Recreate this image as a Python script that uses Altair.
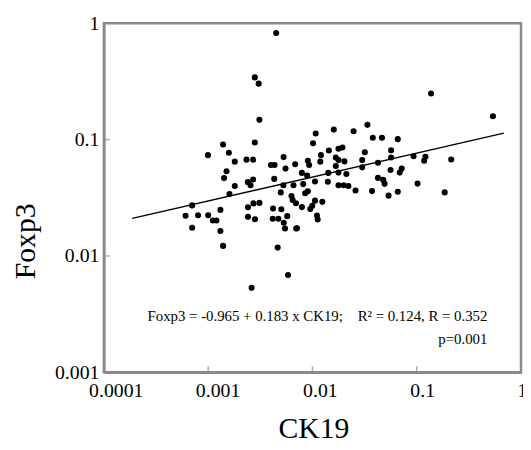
import altair as alt
import pandas as pd

# ---- data (log-log scatter) ----
ck19 = [
    0.000702, 0.000607, 0.000800, 0.00100, 0.00111, 0.00120, 0.00131, 0.000702,
    0.00131, 0.00139, 0.000995, 0.00139, 0.00158, 0.00180, 0.00150, 0.00142,
    0.00180, 0.00160, 0.00233, 0.00270, 0.00280, 0.00310, 0.00305, 0.00280,
    0.00449, 0.00240, 0.00270, 0.00255, 0.00400, 0.00433, 0.00529, 0.00552,
    0.00683, 0.00430, 0.00526, 0.00658, 0.00497, 0.00630, 0.00646, 0.00695,
    0.00241, 0.00272, 0.00310, 0.00241, 0.00281, 0.00419, 0.00503, 0.00416,
    0.00471, 0.00573, 0.00531, 0.00546, 0.00698, 0.00464, 0.00583, 0.00261,
    0.00903, 0.00929, 0.01075, 0.01013, 0.01206, 0.0119, 0.01437, 0.00792,
    0.00889, 0.01058, 0.01418, 0.00815, 0.00851, 0.00903, 0.01058, 0.01244,
    0.00792, 0.00996, 0.00953, 0.01106, 0.01123, 0.00710,
    0.03365, 0.01602, 0.0248, 0.0379, 0.0464, 0.0658, 0.01776, 0.01938,
    0.0318, 0.0568, 0.01674, 0.01776, 0.02025, 0.0300, 0.0568, 0.0933,
    0.1212, 0.1178, 0.0425, 0.0300, 0.01674, 0.01776, 0.02115, 0.0561,
    0.0718, 0.0687, 0.0425, 0.0477, 0.0492, 0.01406, 0.01776, 0.01993,
    0.0221, 0.0259, 0.0373, 0.0537, 0.0658, 0.1018,
    0.1372, 0.538, 0.214, 0.1855,
]
foxp3 = [
    0.0272, 0.0222, 0.0224, 0.0224, 0.0202, 0.0202, 0.0249, 0.0175,
    0.0164, 0.0122, 0.0736, 0.0908, 0.0771, 0.0647, 0.0535, 0.0467,
    0.0399, 0.0341, 0.0673, 0.0673, 0.0944, 0.148, 0.303, 0.343,
    0.827, 0.0431, 0.0455, 0.0405, 0.0605, 0.0605, 0.0708, 0.0564,
    0.0614, 0.0460, 0.0405, 0.0405, 0.0352, 0.0328, 0.0303, 0.0284,
    0.0262, 0.0283, 0.0286, 0.0217, 0.0207, 0.0256, 0.0252, 0.0209,
    0.0209, 0.0220, 0.0193, 0.0172, 0.0172, 0.0118, 0.00685, 0.00532,
    0.0659, 0.0605, 0.113, 0.0931, 0.0736, 0.0647, 0.0807, 0.0518,
    0.0492, 0.0437, 0.0518, 0.0415, 0.0346, 0.0360, 0.0299, 0.0292,
    0.0263, 0.0270, 0.0253, 0.0223, 0.0206, 0.0173,
    0.134, 0.122, 0.118, 0.104, 0.104, 0.101, 0.0834, 0.0855,
    0.078, 0.0811, 0.0703, 0.0667, 0.065, 0.0667, 0.0703, 0.0721,
    0.0713, 0.0659, 0.0634, 0.0578, 0.0593, 0.0521, 0.0507, 0.0548,
    0.0564, 0.0521, 0.0469, 0.0451, 0.0417, 0.0434, 0.0406, 0.0406,
    0.0400, 0.0366, 0.0361, 0.0330, 0.0356, 0.0419,
    0.249, 0.159, 0.0676, 0.0352,
]

# regression line as drawn (end points)
fit_ck19 = [0.000187, 0.684]
fit_foxp3 = [0.0210, 0.114]

x_ticks = [0.0001, 0.001, 0.01, 0.1, 1]
y_ticks = [0.001, 0.01, 0.1, 1]

NB = "\u00a0"
equation = "Foxp3 = -0.965 + 0.183 x CK19;" + NB * 4 + "R\u00b2 = 0.124, R = 0.352"
p_text = "p=0.001"

# ---- layout ----
W, H = 422, 353
FONT = "Liberation Serif"
FRAME = "#8a8a8a"

points_df = pd.DataFrame({"ck19": ck19, "foxp3": foxp3})
fit_df = pd.DataFrame({"ck19": fit_ck19, "foxp3": fit_foxp3})
xt_df = pd.DataFrame({"v": x_ticks[1:-1]})
yt_df = pd.DataFrame({"v": y_ticks[1:-1]})

xscale = alt.Scale(type="log", domain=[x_ticks[0], x_ticks[-1]], nice=False)
yscale = alt.Scale(type="log", domain=[y_ticks[0], y_ticks[-1]], nice=False)

xaxis = alt.Axis(
    values=x_ticks, format="~g", ticks=False, grid=False,
    labelFontSize=20, labelPadding=9, labelFlush=False, labelColor="black",
    labelOffset={"condition": [
        {"test": "datum.value < 0.0005", "value": 12},
        {"test": "datum.value < 0.005", "value": 9.5},
        {"test": "datum.value < 0.05", "value": 7.5},
        {"test": "datum.value < 0.5", "value": 5.5}], "value": 1},
    title="CK19", titleFontSize=30, titleFontWeight="normal", titleColor="black",
    titleX=W / 2 + 1, titleY=57, titleBaseline="middle", titleAlign="center",
    domainColor=FRAME, domainWidth=2.5,
)
yaxis = alt.Axis(
    values=y_ticks, format="~g", ticks=False, grid=False,
    labelFontSize=20, labelPadding=5, labelColor="black",
    title="Foxp3", titleFontSize=30, titleFontWeight="normal", titleColor="black",
    titleX=-79, titleY=220, titleBaseline="middle", titleAlign="center", titleAngle=-90,
    domainColor=FRAME, domainWidth=2.5,
)

base_x = alt.X("ck19:Q", scale=xscale, axis=xaxis)
base_y = alt.Y("foxp3:Q", scale=yscale, axis=yaxis)

points = alt.Chart(points_df).mark_circle(size=38, color="black", opacity=1).encode(
    x=base_x, y=base_y
)
fit = alt.Chart(fit_df).mark_line(color="black", strokeWidth=1.3).encode(
    x=alt.X("ck19:Q", scale=xscale), y=alt.Y("foxp3:Q", scale=yscale)
)
xt = alt.Chart(xt_df).mark_tick(orient="vertical", color=FRAME, thickness=1.5, size=6).encode(
    x=alt.X("v:Q", scale=xscale), y=alt.value(H - 3)
)
yt = alt.Chart(yt_df).mark_tick(orient="horizontal", color=FRAME, thickness=1.5, size=6).encode(
    y=alt.Y("v:Q", scale=yscale), x=alt.value(3)
)
eq = alt.Chart(pd.DataFrame({"t": [equation]})).mark_text(
    align="right", baseline="middle", font=FONT, fontSize=15, color="black"
).encode(x=alt.value(388), y=alt.value(296), text="t:N")
pv = alt.Chart(pd.DataFrame({"t": [p_text]})).mark_text(
    align="right", baseline="middle", font=FONT, fontSize=15, color="black"
).encode(x=alt.value(388), y=alt.value(319), text="t:N")

chart = alt.layer(fit, points, xt, yt, eq, pv).properties(
    width=W, height=H,
    autosize=alt.AutoSizeParams(type="none"),
    padding={"left": 97, "top": 13, "right": 2, "bottom": 67},
).configure(font=FONT).configure_view(
    stroke=FRAME, strokeWidth=2.5
).configure_axis(labelFont=FONT, titleFont=FONT)

chart.save("out.html", embed_options={"renderer": "svg", "actions": False})
